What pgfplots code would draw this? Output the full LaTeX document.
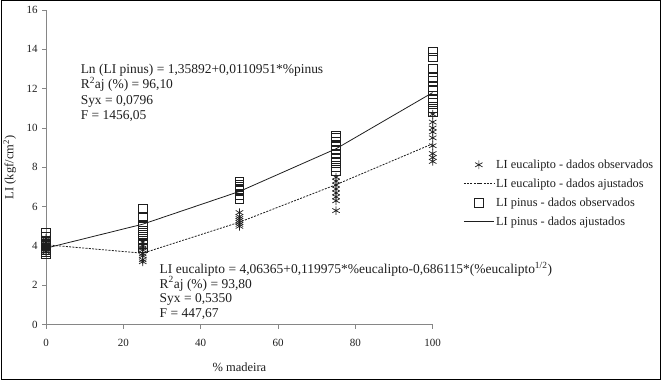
\documentclass[border=0pt]{standalone}
\usepackage{pgfplots}
\pgfplotsset{compat=1.18}
\usepackage{fontspec}
\setmainfont{Liberation Serif}
\definecolor{axgray}{RGB}{134,134,134}
\definecolor{ink}{RGB}{30,30,30}
\begin{document}
\begin{tikzpicture}[x=1pt,y=1pt]
\draw[line width=1pt,black] (0.5,0.5) rectangle (660.5,379.5);
\begin{axis}[
  at={(45.5pt,55pt)}, anchor=south west,
  scale only axis, width=387pt, height=315pt,
  xmin=0, xmax=100, ymin=0, ymax=16,
  enlargelimits=false,
  axis x line*=bottom, axis y line*=left,
  axis line style={axgray, line width=0.8pt},
  tick style={axgray, line width=0.8pt},
  tick align=outside, major tick length=4pt,
  xtick={0,20,40,60,80,100}, ytick={0,2,4,6,8,10,12,14,16},
  /pgf/number format/assume math mode=true,
  tick label style={font=\fontsize{11}{13}\selectfont, text=ink},
  xticklabel style={yshift=-7pt},
  yticklabel style={xshift=-1pt},
  xlabel={\% madeira}, ylabel={LI (kgf/cm\textsuperscript{2})},
  label style={font=\fontsize{12.5}{14}\selectfont, text=ink},
  xlabel style={at={(axis description cs:0.5,-0.1365)}, anchor=center},
  ylabel style={at={(axis description cs:-0.094,0.5)}, anchor=center},
  legend image code/.code={\draw[mark repeat=2,mark phase=2] plot coordinates {(0pt,0pt)(15pt,0pt)(30pt,0pt)};},
  legend style={at={(axis description cs:1.079,0.4175)}, anchor=west, draw=none, fill=none,
    font=\fontsize{12.3}{14}\selectfont, text=ink, row sep=5pt, inner sep=0pt,
    nodes={inner sep=2pt}},
  legend cell align=left,
]
% eucalipto observed
\addplot[only marks, mark=asterisk, mark size=4.3pt, ink, line width=0.7pt] coordinates {
(0,3.7)(0,3.8)(0,3.9)(0,4.0)(0,4.05)(0,4.1)(0,4.2)(0,4.3)(0,4.4)
(25,3.2)(25,3.3)(25,3.5)(25,3.6)(25,3.8)(25,3.9)(25,4.0)(25,4.2)
(50,5.0)(50,5.1)(50,5.2)(50,5.3)(50,5.4)(50,5.5)(50,5.7)
(75,5.8)(75,6.3)(75,6.5)(75,6.7)(75,6.9)(75,7.1)(75,7.3)(75,7.5)
(100,8.3)(100,8.5)(100,8.7)(100,9.1)(100,9.5)(100,9.8)(100,10.0)(100,10.3)(100,10.7)
};
\addlegendentry{LI eucalipto - dados observados}
% eucalipto fitted
\addplot[ink, line width=0.8pt, dash pattern=on 2pt off 1.3pt] coordinates {
(0,4.064)(25,3.633)(50,5.211)(75,7.120)(100,9.200)
};
\addlegendentry{LI eucalipto - dados ajustados}
% pinus observed
\addplot[only marks, mark=square, mark size=4.3pt, ink, line width=0.6pt] coordinates {
(0,3.6)(0,3.7)(0,3.8)(0,3.9)(0,4.0)(0,4.1)(0,4.2)(0,4.3)(0,4.5)(0,4.7)
(25,3.9)(25,4.1)(25,4.3)(25,4.5)(25,4.6)(25,4.8)(25,5.0)(25,5.1)(25,5.5)(25,5.9)
(50,6.4)(50,6.6)(50,6.8)(50,6.9)(50,7.0)(50,7.1)(50,7.3)
(75,7.8)(75,8.0)(75,8.3)(75,8.5)(75,8.7)(75,8.9)(75,9.1)(75,9.3)(75,9.5)(75,9.6)
(100,10.8)(100,11.0)(100,11.3)(100,11.5)(100,11.9)(100,12.1)(100,12.4)(100,12.6)(100,13.0)(100,13.6)(100,13.9)
};
\addlegendentry{LI pinus - dados observados}
% pinus fitted
\addplot[ink, line width=0.8pt] coordinates {
(0,3.892)(25,5.110)(50,6.773)(75,8.945)(100,11.803)
};
\addlegendentry{LI pinus - dados ajustados}
\end{axis}
\node[anchor=north west, inner sep=0pt, align=left, text=ink,
  font=\fontsize{13.5}{15.3}\selectfont] at (80,316)
  {Ln (LI pinus) = 1,35892+0,0110951*\%pinus\\
   R\textsuperscript{2}aj (\%) = 96,10\\
   Syx = 0,0796\\
   F = 1456,05};
\node[anchor=north west, inner sep=0pt, align=left, text=ink,
  font=\fontsize{13.5}{14.7}\selectfont] at (159,118)
  {LI eucalipto = 4,06365+0,119975*\%eucalipto-0,686115*(\%eucalipto\textsuperscript{1/2})\\
   R\textsuperscript{2}aj (\%) = 93,80\\
   Syx = 0,5350\\
   F = 447,67};
\end{tikzpicture}
\end{document}
